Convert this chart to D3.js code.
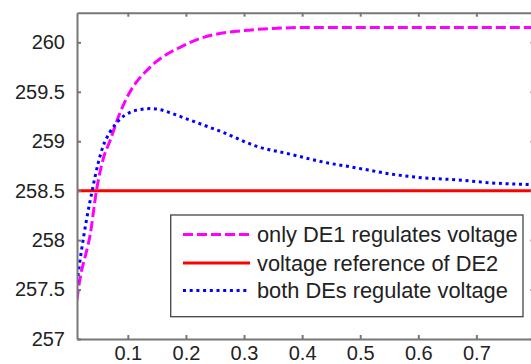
<!DOCTYPE html>
<html>
<head>
<meta charset="utf-8">
<script src="https://cdn.jsdelivr.net/npm/d3@7"></script>
<style>
    body { margin: 0; background: #fff; }
    svg { display: block; font-family: "Liberation Sans", Arial, sans-serif; }
    .axis path, .axis line { stroke: #777; stroke-width: 2; }
    .axis text { font-size: 20px; fill: #222; }
</style>
</head>
<body>
<div id="graph"></div>
<script>
/************************ DATA ************************/

// time (s) and voltage readings
var deOnlyTime = [0.0125, 0.016, 0.02, 0.026, 0.035, 0.046, 0.0575, 0.069, 0.086, 0.10, 0.115, 0.13, 0.15, 0.17, 0.19, 0.22, 0.25, 0.30, 0.35, 0.40, 0.50, 0.60, 0.70, 0.80];
var deOnlyVolt = [257.40, 257.55, 257.68, 257.82, 258.05, 258.50, 258.82, 259.00, 259.28, 259.46, 259.60, 259.70, 259.81, 259.89, 259.95, 260.03, 260.08, 260.12, 260.14, 260.15, 260.15, 260.15, 260.15, 260.15];

var bothTime = [0.0125, 0.0203, 0.029, 0.039, 0.049, 0.0575, 0.069, 0.086, 0.103, 0.12, 0.138, 0.155, 0.172, 0.195, 0.218, 0.264, 0.321, 0.379, 0.436, 0.494, 0.551, 0.608, 0.666, 0.723, 0.80];
var bothVolt = [257.57, 257.90, 258.21, 258.51, 258.78, 258.95, 259.09, 259.22, 259.29, 259.32, 259.33, 259.32, 259.29, 259.24, 259.19, 259.09, 258.95, 258.87, 258.79, 258.73, 258.67, 258.63, 258.61, 258.58, 258.56];

var refVolt = 258.5;

var xTicks = [0.1, 0.2, 0.3, 0.4, 0.5, 0.6, 0.7];
var yTicks = [257, 257.5, 258, 258.5, 259, 259.5, 260];

var legendLabels = ["only DE1 regulates voltage", "voltage reference of DE2", "both DEs regulate voltage"];

/************************ GRAPH ************************/

var W = 531, H = 364;
var plotLeft = 77, plotTop = 12.7, plotRight = 534.5, plotBottom = 339;

var x = d3.scaleLinear().domain([0.0125, 0.8]).range([plotLeft, plotRight]);
var y = d3.scaleLinear().domain([257, 260.3]).range([plotBottom, plotTop]);

var svg = d3.select("#graph").append("svg")
    .attr("width", W)
    .attr("height", H);

var line = d3.line()
    .x(function(d) { return x(d[0]); })
    .y(function(d) { return y(d[1]); })
    .curve(d3.curveMonotoneX);

var deOnly = deOnlyTime.map(function(t, i) { return [t, deOnlyVolt[i]]; });
var both = bothTime.map(function(t, i) { return [t, bothVolt[i]]; });

svg.append("defs").append("clipPath").attr("id", "clip")
    .append("rect")
    .attr("x", plotLeft).attr("y", plotTop)
    .attr("width", plotRight - plotLeft).attr("height", plotBottom - plotTop);

var plot = svg.append("g").attr("clip-path", "url(#clip)");

// reference line
plot.append("line")
    .attr("x1", x(0.0125)).attr("x2", x(0.8))
    .attr("y1", y(refVolt)).attr("y2", y(refVolt))
    .attr("stroke", "#ff0000")
    .attr("stroke-width", 3);

plot.append("path")
    .datum(deOnly)
    .attr("d", line)
    .attr("fill", "none")
    .attr("stroke", "#ff00ff")
    .attr("stroke-width", 3)
    .attr("stroke-dasharray", "10 4");

plot.append("path")
    .datum(both)
    .attr("d", line)
    .attr("fill", "none")
    .attr("stroke", "#0000ff")
    .attr("stroke-width", 3)
    .attr("stroke-dasharray", "3 3.7");

// axes
svg.append("g")
    .attr("class", "axis")
    .attr("transform", "translate(0," + plotBottom + ")")
    .call(d3.axisBottom(x).tickValues(xTicks).tickSize(-4).tickSizeOuter(0).tickPadding(7)
        .tickFormat(d3.format(".1f")));

svg.append("g")
    .attr("class", "axis")
    .attr("transform", "translate(0," + plotTop + ")")
    .call(d3.axisTop(x).tickValues(xTicks).tickSize(-4).tickSizeOuter(0).tickFormat(""));

svg.append("g")
    .attr("class", "axis")
    .attr("transform", "translate(" + plotLeft + ",0)")
    .call(d3.axisLeft(y).tickValues(yTicks).tickSize(-4).tickSizeOuter(0).tickPadding(12)
        .tickFormat(function(d) { return d3.format("")(d); }));

svg.append("g")
    .attr("class", "axis")
    .attr("transform", "translate(" + plotRight + ",0)")
    .call(d3.axisRight(y).tickValues(yTicks).tickSize(-4).tickSizeOuter(0).tickFormat(""));

// legend
var legend = svg.append("g");
legend.append("rect")
    .attr("x", 170.7).attr("y", 215)
    .attr("width", 352.3).attr("height", 101.7)
    .attr("fill", "#fff")
    .attr("stroke", "#444")
    .attr("stroke-width", 1.3);

var legendStyles = [
    { color: "#ff00ff", dash: "10 4" },
    { color: "#ff0000", dash: null },
    { color: "#0000ff", dash: "3 3.7" }
];
var rowY = [234.5, 263, 290.5];

legendLabels.forEach(function(label, i) {
    legend.append("line")
        .attr("x1", 183).attr("x2", 250)
        .attr("y1", rowY[i]).attr("y2", rowY[i])
        .attr("stroke", legendStyles[i].color)
        .attr("stroke-width", 3)
        .attr("stroke-dasharray", legendStyles[i].dash);
    legend.append("text")
        .attr("x", 257).attr("y", rowY[i])
        .attr("dy", "0.35em")
        .style("font-size", "21.8px")
        .style("fill", "#222")
        .text(label);
});
</script>
</body>
</html>
